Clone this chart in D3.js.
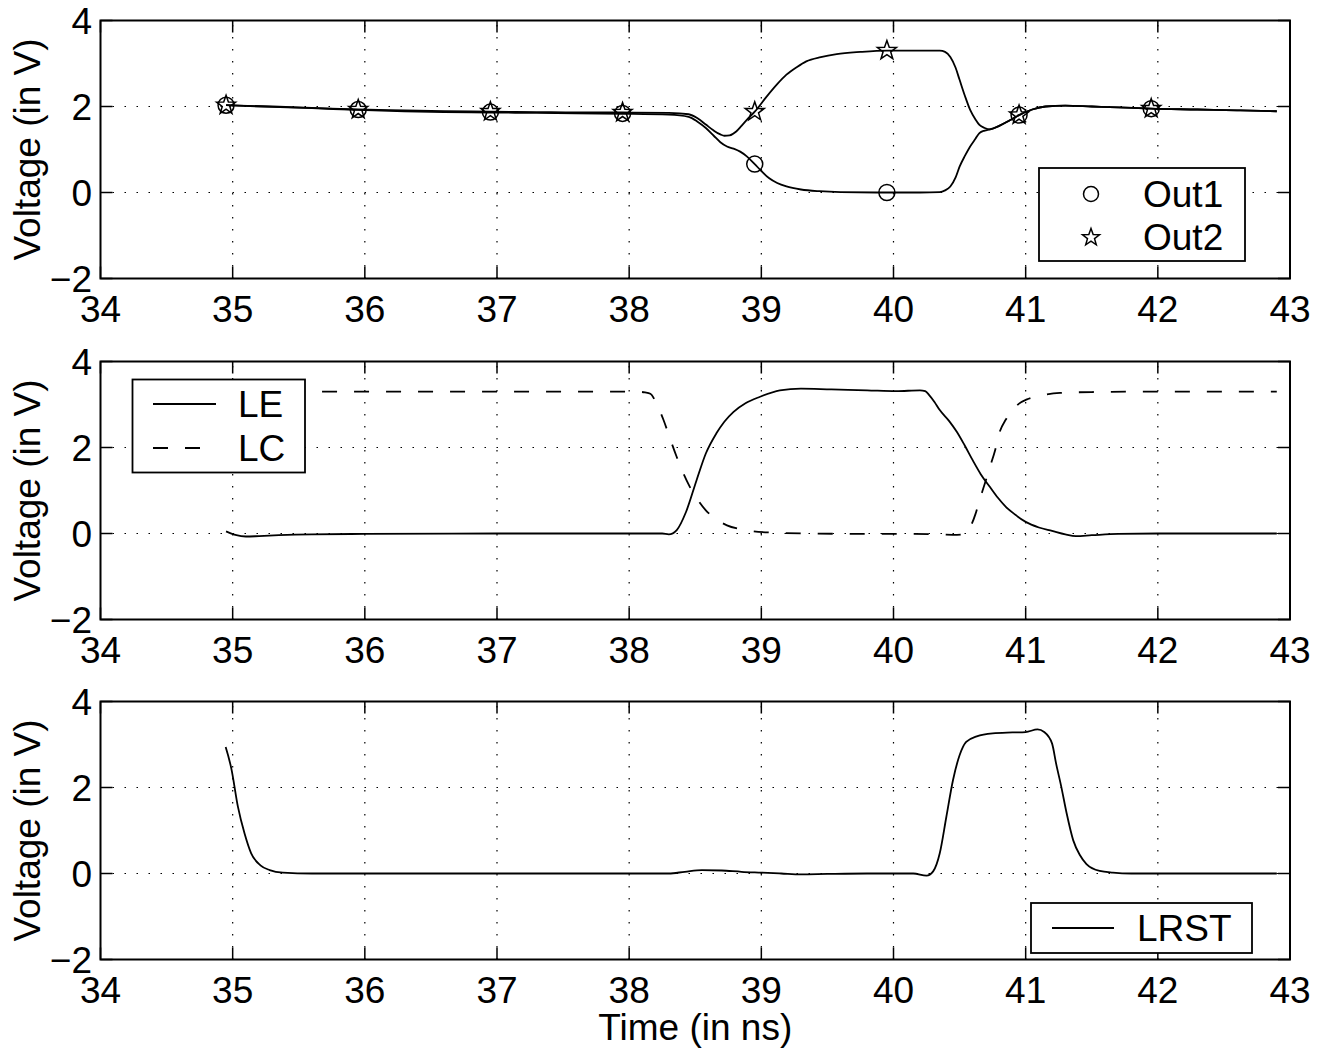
<!DOCTYPE html>
<html>
<head>
<meta charset="utf-8">
<script src="https://cdn.jsdelivr.net/npm/d3@7"></script>
<style>
  html, body { margin: 0; padding: 0; background: #fff; }
  svg { display: block; }
  text { font-family: "Liberation Sans", Arial, Helvetica, sans-serif; fill: #000; }
</style>
</head>
<body>
<script>
// ---------- axis ticks ----------
const timeTicks = [34, 35, 36, 37, 38, 39, 40, 41, 42, 43];
const voltTicks = [-2, 0, 2, 4];

// ---------- panel 1: Out1 / Out2 ----------
const out1Time = [34.95, 35.3, 35.6, 35.95, 36.3, 36.6, 36.95, 37.3, 37.6, 37.95, 38.3, 38.45, 38.52, 38.58, 38.64, 38.69, 38.74, 38.79, 38.84, 38.89, 38.95, 39.0, 39.06, 39.12, 39.19, 39.3, 39.44, 39.6, 39.95, 40.2, 40.35, 40.39, 40.43, 40.47, 40.5, 40.54, 40.58, 40.62, 40.65, 40.69, 40.73, 40.8, 40.88, 40.95, 41.05, 41.15, 41.3, 41.5, 41.7, 41.95, 42.3, 42.6, 42.9];
const out1Volt = [2.03, 1.99, 1.96, 1.92, 1.89, 1.87, 1.86, 1.85, 1.84, 1.83, 1.81, 1.76, 1.64, 1.50, 1.32, 1.17, 1.07, 1.02, 0.95, 0.84, 0.66, 0.50, 0.33, 0.22, 0.14, 0.07, 0.03, 0.01, 0.0, 0.0, 0.01, 0.05, 0.14, 0.35, 0.6, 0.85, 1.07, 1.25, 1.38, 1.44, 1.47, 1.55, 1.68, 1.80, 1.93, 2.0, 2.02, 2.0, 1.98, 1.95, 1.93, 1.91, 1.89];

const out2Time = [34.95, 35.3, 35.6, 35.95, 36.3, 36.6, 36.95, 37.3, 37.6, 37.95, 38.3, 38.45, 38.52, 38.58, 38.64, 38.69, 38.72, 38.76, 38.81, 38.85, 38.89, 38.95, 39.04, 39.12, 39.19, 39.27, 39.34, 39.45, 39.57, 39.75, 39.95, 40.2, 40.35, 40.39, 40.43, 40.47, 40.5, 40.54, 40.58, 40.62, 40.65, 40.69, 40.73, 40.8, 40.88, 40.95, 41.05, 41.15, 41.3, 41.5, 41.7, 41.95, 42.3, 42.6, 42.9];
const out2Volt = [2.03, 2.0, 1.97, 1.93, 1.91, 1.89, 1.88, 1.87, 1.86, 1.86, 1.85, 1.82, 1.72, 1.58, 1.44, 1.35, 1.32, 1.33, 1.42, 1.55, 1.69, 1.88, 2.23, 2.52, 2.74, 2.92, 3.05, 3.15, 3.22, 3.27, 3.30, 3.30, 3.30, 3.27, 3.15, 2.9, 2.62, 2.25, 1.92, 1.70, 1.57, 1.50, 1.47, 1.55, 1.68, 1.80, 1.93, 2.0, 2.02, 2.0, 1.98, 1.95, 1.93, 1.91, 1.89];

const markTime = [34.95, 35.95, 36.95, 37.95, 38.95, 39.95, 40.95, 41.95];
const out1Marks = [2.03, 1.93, 1.87, 1.84, 0.66, 0.0, 1.80, 1.95];
const out2Marks = [2.03, 1.93, 1.88, 1.86, 1.88, 3.30, 1.80, 1.95];

// ---------- panel 2: LE / LC ----------
const leTime = [34.95, 35.02, 35.1, 35.2, 35.35, 35.6, 36.0, 37.0, 38.0, 38.25, 38.3, 38.36, 38.43, 38.51, 38.58, 38.66, 38.72, 38.79, 38.88, 38.99, 39.14, 39.3, 39.53, 39.8, 40.02, 40.2, 40.24, 40.27, 40.31, 40.35, 40.42, 40.48, 40.54, 40.6, 40.66, 40.73, 40.79, 40.85, 40.92, 41.0, 41.1, 41.2, 41.3, 41.38, 41.5, 41.7, 42.0, 42.5, 42.9];
const leVolt = [0.05, -0.03, -0.07, -0.06, -0.04, -0.02, -0.01, 0, 0, 0, -0.02, 0.08, 0.5, 1.24, 1.86, 2.33, 2.6, 2.83, 3.03, 3.18, 3.33, 3.37, 3.35, 3.33, 3.31, 3.33, 3.31, 3.22, 3.06, 2.87, 2.62, 2.36, 2.04, 1.70, 1.38, 1.08, 0.83, 0.62, 0.44, 0.27, 0.14, 0.06, -0.02, -0.06, -0.04, -0.01, 0, 0, 0];

const lcTime = [34.95, 35.5, 36.5, 37.5, 38.05, 38.12, 38.16, 38.21, 38.26, 38.31, 38.36, 38.41, 38.46, 38.52, 38.58, 38.66, 38.74, 38.84, 38.94, 39.1, 39.39, 39.8, 40.15, 40.35, 40.48, 40.53, 40.58, 40.62, 40.65, 40.69, 40.73, 40.77, 40.8, 40.85, 40.9, 40.95, 41.01, 41.1, 41.26, 41.5, 42.0, 42.5, 42.9];
const lcVolt = [3.3, 3.3, 3.3, 3.3, 3.3, 3.28, 3.25, 3.0, 2.64, 2.2, 1.78, 1.4, 1.08, 0.78, 0.54, 0.33, 0.19, 0.1, 0.05, 0.02, 0.0, -0.01, -0.01, -0.02, -0.03, -0.02, 0.15, 0.45, 0.77, 1.15, 1.55, 1.95, 2.33, 2.65, 2.87, 3.02, 3.12, 3.2, 3.27, 3.29, 3.3, 3.3, 3.3];

// ---------- panel 3: LRST ----------
const lrstTime = [34.947, 34.99, 35.04, 35.09, 35.14, 35.21, 35.28, 35.38, 35.6, 36.0, 37.0, 38.0, 38.3, 38.42, 38.55, 38.7, 38.85, 39.0, 39.15, 39.3, 39.5, 39.8, 40.05, 40.15, 40.25, 40.3, 40.35, 40.4, 40.45, 40.5, 40.55, 40.63, 40.75, 40.9, 41.0, 41.09, 41.14, 41.2, 41.23, 41.27, 41.31, 41.36, 41.41, 41.46, 41.56, 41.66, 41.8, 42.2, 42.9];
const lrstVolt = [2.94, 2.44, 1.55, 0.93, 0.47, 0.19, 0.08, 0.02, 0.0, 0, 0, 0, 0.0, 0.04, 0.08, 0.07, 0.04, 0.02, 0.0, -0.02, -0.01, 0.0, 0.0, 0.0, -0.05, 0.05, 0.47, 1.32, 2.17, 2.75, 3.06, 3.19, 3.26, 3.28, 3.29, 3.35, 3.29, 3.02, 2.56, 2.01, 1.40, 0.77, 0.43, 0.22, 0.06, 0.02, 0, 0, 0];

// ---------- layout ----------
const W = 1328, H = 1053;
const left = 100.5, right = 1290;
const panelH = 258;
const panelTops = [20.5, 361.5, 701.5];
const FONT = 37;
const TICK = 12;

const svg = d3.select("body").append("svg")
  .attr("width", W).attr("height", H)
  .attr("viewBox", `0 0 ${W} ${H}`);

const x = d3.scaleLinear().domain([34, 43]).range([left, right]);

const zip = (ts, vs) => ts.map((t, i) => [t, vs[i]]);

function starPath(cx, cy, R, r) {
  const pts = [];
  for (let k = 0; k < 10; k++) {
    const a = -Math.PI / 2 + k * Math.PI / 5;
    const rad = k % 2 === 0 ? R : r;
    pts.push([cx + rad * Math.cos(a), cy + rad * Math.sin(a)]);
  }
  return "M" + pts.map(p => p.join(",")).join("L") + "Z";
}

function drawPanel(top) {
  const y = d3.scaleLinear().domain([-2, 4]).range([top + panelH, top]);
  const g = svg.append("g");
  const bottom = top + panelH;

  // dotted grid
  const grid = g.append("g").attr("stroke", "#000").attr("stroke-width", 1.2)
    .attr("stroke-dasharray", "1.5,10.5").attr("fill", "none");
  timeTicks.filter(t => t > 34 && t < 43).forEach(t => {
    grid.append("line").attr("x1", x(t)).attr("x2", x(t)).attr("y1", bottom).attr("y2", top);
  });
  voltTicks.filter(v => v > -2 && v < 4).forEach(v => {
    grid.append("line").attr("x1", left).attr("x2", right).attr("y1", y(v)).attr("y2", y(v));
  });

  // inward ticks on all four sides
  const ticks = g.append("g").attr("stroke", "#000").attr("stroke-width", 1.5);
  timeTicks.forEach(t => {
    ticks.append("line").attr("x1", x(t)).attr("x2", x(t)).attr("y1", bottom).attr("y2", bottom - TICK);
    ticks.append("line").attr("x1", x(t)).attr("x2", x(t)).attr("y1", top).attr("y2", top + TICK);
  });
  voltTicks.forEach(v => {
    ticks.append("line").attr("x1", left).attr("x2", left + TICK).attr("y1", y(v)).attr("y2", y(v));
    ticks.append("line").attr("x1", right).attr("x2", right - TICK).attr("y1", y(v)).attr("y2", y(v));
  });

  // tick labels
  timeTicks.forEach(t => {
    g.append("text").attr("x", x(t)).attr("y", bottom + 43.5)
      .attr("text-anchor", "middle").attr("font-size", FONT).text(t);
  });
  voltTicks.forEach(v => {
    g.append("text").attr("x", left - 8.5).attr("y", y(v) + 13.3)
      .attr("text-anchor", "end").attr("font-size", FONT)
      .text(v < 0 ? "\u2212" + Math.abs(v) : v);
  });

  // y-axis title
  g.append("text")
    .attr("transform", `translate(40,${top + panelH / 2}) rotate(-90)`)
    .attr("text-anchor", "middle").attr("font-size", FONT)
    .text("Voltage (in V)");

  return { g, y, top, bottom };
}

function drawBox(p) {
  p.g.append("rect").attr("x", left).attr("y", p.top)
    .attr("width", right - left).attr("height", panelH)
    .attr("fill", "none").attr("stroke", "#000").attr("stroke-width", 2);
}

function lineGen(y) {
  return d3.line().x(d => x(d[0])).y(d => y(d[1])).curve(d3.curveMonotoneX);
}

function legendBox(g, x0, y0, x1, y1) {
  g.append("rect").attr("x", x0).attr("y", y0).attr("width", x1 - x0).attr("height", y1 - y0)
    .attr("fill", "#fff").attr("stroke", "#000").attr("stroke-width", 1.8);
}

// ----- panel 1 -----
const p1 = drawPanel(panelTops[0]);
const l1 = lineGen(p1.y);
p1.g.append("path").attr("d", l1(zip(out1Time, out1Volt)))
  .attr("fill", "none").attr("stroke", "#000").attr("stroke-width", 1.8);
p1.g.append("path").attr("d", l1(zip(out2Time, out2Volt)))
  .attr("fill", "none").attr("stroke", "#000").attr("stroke-width", 1.8);
p1.g.selectAll("circle.m1").data(zip(markTime, out1Marks)).join("circle")
  .attr("cx", d => x(d[0])).attr("cy", d => p1.y(d[1])).attr("r", 8)
  .attr("fill", "none").attr("stroke", "#000").attr("stroke-width", 1.5);
p1.g.selectAll("path.m2").data(zip(markTime, out2Marks)).join("path")
  .attr("d", d => starPath(x(d[0]), p1.y(d[1]), 10, 4))
  .attr("fill", "none").attr("stroke", "#000").attr("stroke-width", 1.5);
drawBox(p1);
legendBox(p1.g, 1039, 168, 1245, 261);
p1.g.append("circle").attr("cx", 1091).attr("cy", 194).attr("r", 7.5)
  .attr("fill", "none").attr("stroke", "#000").attr("stroke-width", 1.5);
p1.g.append("path").attr("d", starPath(1091, 237.5, 9, 3.7))
  .attr("fill", "none").attr("stroke", "#000").attr("stroke-width", 1.5);
p1.g.append("text").attr("x", 1143).attr("y", 207).attr("font-size", FONT).text("Out1");
p1.g.append("text").attr("x", 1143).attr("y", 250).attr("font-size", FONT).text("Out2");

// ----- panel 2 -----
const p2 = drawPanel(panelTops[1]);
const l2 = lineGen(p2.y);
p2.g.append("path").attr("d", l2(zip(leTime, leVolt)))
  .attr("fill", "none").attr("stroke", "#000").attr("stroke-width", 1.8);
p2.g.append("path").attr("d", l2(zip(lcTime, lcVolt)))
  .attr("fill", "none").attr("stroke", "#000").attr("stroke-width", 1.8)
  .attr("stroke-dasharray", "15,17");
drawBox(p2);
legendBox(p2.g, 132.5, 379.5, 305, 472.5);
p2.g.append("line").attr("x1", 153).attr("x2", 216).attr("y1", 404).attr("y2", 404)
  .attr("stroke", "#000").attr("stroke-width", 1.8);
p2.g.append("line").attr("x1", 153).attr("x2", 216).attr("y1", 448).attr("y2", 448)
  .attr("stroke", "#000").attr("stroke-width", 1.8).attr("stroke-dasharray", "15,17");
p2.g.append("text").attr("x", 238).attr("y", 417).attr("font-size", FONT).text("LE");
p2.g.append("text").attr("x", 238).attr("y", 461).attr("font-size", FONT).text("LC");

// ----- panel 3 -----
const p3 = drawPanel(panelTops[2]);
const l3 = lineGen(p3.y);
p3.g.append("path").attr("d", l3(zip(lrstTime, lrstVolt)))
  .attr("fill", "none").attr("stroke", "#000").attr("stroke-width", 1.8);
drawBox(p3);
legendBox(p3.g, 1031, 903, 1252, 953);
p3.g.append("line").attr("x1", 1052).attr("x2", 1114).attr("y1", 928).attr("y2", 928)
  .attr("stroke", "#000").attr("stroke-width", 1.8);
p3.g.append("text").attr("x", 1137).attr("y", 941).attr("font-size", FONT).text("LRST");

// x-axis title
svg.append("text").attr("x", (left + right) / 2).attr("y", 1040)
  .attr("text-anchor", "middle").attr("font-size", FONT).text("Time (in ns)");
</script>
</body>
</html>
